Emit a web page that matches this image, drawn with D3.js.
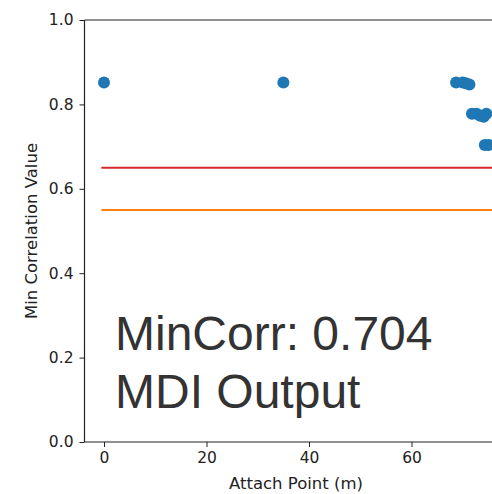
<!DOCTYPE html>
<html>
<head>
<meta charset="utf-8">
<script src="https://cdn.jsdelivr.net/npm/d3@7"></script>
<style>
  body { margin: 0; background: #fff; }
  svg { display: block; }
  .tick text { font-family: "DejaVu Sans", sans-serif; font-size: 15.5px; fill: #222; }
</style>
</head>
<body>
<svg id="chart" width="492" height="494"></svg>
<script>
// attach points (m) and min correlation values
const attachPts = [0, 35, 68.7, 70, 70.6, 71.3, 71.8, 72.7, 73.4, 74.1, 74.6, 74.3, 75];
const minCorr   = [0.852, 0.852, 0.852, 0.852, 0.850, 0.847, 0.778, 0.778, 0.773, 0.771, 0.778, 0.704, 0.704];

const thresholds = [0.65, 0.55];
const thresholdColors = ["#d62728", "#ff7f0e"];

const xTicks = [0, 20, 40, 60];
const yTicks = [0, 0.2, 0.4, 0.6, 0.8, 1.0];

const annotation = ["MinCorr: 0.704", "MDI Output"];

const w = 492, h = 494;
const pLeft = 84.5, pTop = 20, pBottom = 442;

const svg = d3.select("#chart");

const xScale = d3.scaleLinear()
    .domain([0, 20])
    .range([104, 206.5]);
const xMax = xScale.invert(w + 10);

const yScale = d3.scaleLinear()
    .domain([0, 1])
    .range([pBottom, pTop]);

// threshold lines
svg.selectAll("line.thr")
    .data(thresholds)
    .enter()
    .append("line")
    .attr("class", "thr")
    .attr("x1", xScale(-0.5))
    .attr("x2", xScale(xMax))
    .attr("y1", d => yScale(d))
    .attr("y2", d => yScale(d))
    .attr("stroke", (d, i) => thresholdColors[i])
    .attr("stroke-width", 2);

// points
svg.selectAll("circle")
    .data(attachPts)
    .enter()
    .append("circle")
    .attr("cx", d => xScale(d))
    .attr("cy", (d, i) => yScale(minCorr[i]))
    .attr("r", 6)
    .attr("fill", "#1f77b4");

// axes
const xAxis = d3.axisBottom(xScale).tickValues(xTicks).tickSize(5).tickPadding(5).tickFormat(d3.format("d"));
const yAxis = d3.axisLeft(yScale).tickValues(yTicks).tickSize(5).tickPadding(6).tickFormat(d3.format(".1f"));

const gx = svg.append("g")
    .attr("transform", `translate(0,${pBottom})`)
    .call(xAxis);
gx.select(".domain").remove();
gx.append("line")
    .attr("x1", pLeft).attr("x2", w + 10)
    .attr("stroke", "#222").attr("stroke-width", 1.2);

const gy = svg.append("g")
    .attr("transform", `translate(${pLeft},0)`)
    .call(yAxis);
gy.select(".domain").remove();
gy.append("line")
    .attr("y1", pTop).attr("y2", pBottom)
    .attr("stroke", "#222").attr("stroke-width", 1.2);

// top spine
svg.append("line")
    .attr("x1", pLeft).attr("x2", w + 10)
    .attr("y1", pTop).attr("y2", pTop)
    .attr("stroke", "#222").attr("stroke-width", 1.2);

svg.selectAll(".tick line").attr("stroke", "#222");

// axis labels
svg.append("text")
    .attr("x", 296)
    .attr("y", 489)
    .attr("text-anchor", "middle")
    .style("font-family", "DejaVu Sans, sans-serif")
    .style("font-size", "16.5px")
    .attr("fill", "#222")
    .text("Attach Point (m)");

svg.append("text")
    .attr("transform", "rotate(-90)")
    .attr("x", -(pTop + pBottom) / 2)
    .attr("y", 37)
    .attr("text-anchor", "middle")
    .style("font-family", "DejaVu Sans, sans-serif")
    .style("font-size", "16.5px")
    .attr("fill", "#222")
    .text("Min Correlation Value");

// annotation text
svg.selectAll("text.note")
    .data(annotation)
    .enter()
    .append("text")
    .attr("class", "note")
    .attr("x", 115)
    .attr("y", (d, i) => 350 + i * 58)
    .style("font-family", "Liberation Sans, Arial, sans-serif")
    .style("font-size", "48px")
    .attr("fill", "#333")
    .text(d => d);
</script>
</body>
</html>
